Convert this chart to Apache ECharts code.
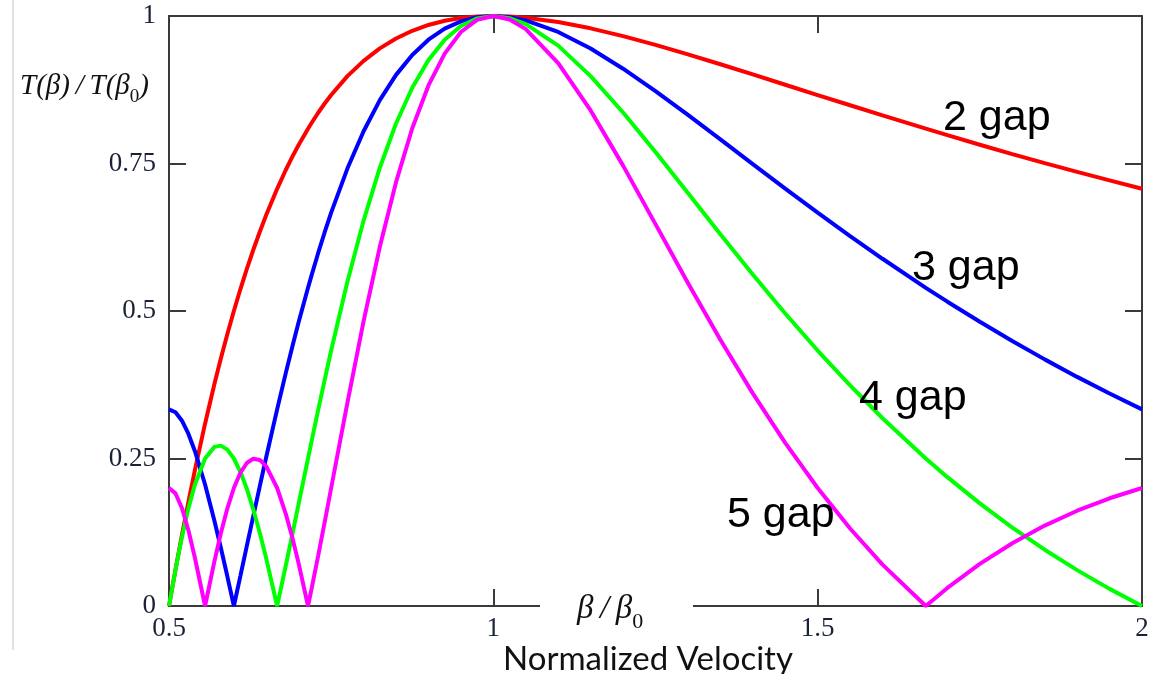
<!DOCTYPE html>
<html>
<head>
<meta charset="utf-8">
<script src="https://cdn.jsdelivr.net/npm/echarts@6/dist/echarts.min.js"></script>
<style>
html,body{margin:0;padding:0;background:#fff;}
#chart{width:1153px;height:674px;}
</style>
</head>
<body>
<div id="chart"></div>
<script>
// Normalized velocity samples (beta/beta0)
const beta = [0.5,0.51,0.52,0.53,0.54,0.5556,0.57,0.58,0.59,0.6,0.61,0.62,0.63,0.64,0.65,0.6667,0.68,0.69,0.7,0.7143,0.72,0.73,0.74,0.75,0.775,0.8,0.825,0.85,0.875,0.9,0.925,0.95,0.975,1.0,1.025,1.05,1.1,1.15,1.2,1.25,1.3,1.35,1.4,1.45,1.5,1.55,1.6,1.6667,1.7,1.75,1.8,1.85,1.9,1.95,2.0];

const gap2 = [0,0.0616,0.1205,0.1769,0.2306,0.3090,0.3764,0.4199,0.4611,0.5,0.5368,0.5713,0.6038,0.6344,0.6631,0.7071,0.7390,0.7612,0.7818,0.8090,0.8191,0.8360,0.8517,0.8660,0.8981,0.9239,0.9451,0.9618,0.9749,0.9848,0.9920,0.9966,0.9992,1,0.9993,0.9972,0.9898,0.9791,0.9659,0.9511,0.9350,0.9182,0.9010,0.8835,0.8660,0.8487,0.8315,0.8090,0.7980,0.7818,0.7660,0.7507,0.7357,0.7213,0.7071];

const gap3 = [0.3333,0.3283,0.3140,0.2916,0.2624,0.2060,0.1445,0.0983,0.0499,0,0.0507,0.1018,0.1528,0.2033,0.2530,0.3333,0.3947,0.4391,0.4817,0.5393,0.5613,0.5984,0.6335,0.6667,0.7414,0.8047,0.8574,0.9002,0.9340,0.9598,0.9786,0.9909,0.9979,1,0.9980,0.9926,0.9730,0.9448,0.9107,0.8727,0.8324,0.7908,0.7490,0.7075,0.6667,0.6270,0.5885,0.5393,0.5158,0.4817,0.4491,0.4180,0.3883,0.3602,0.3333];

const gap4 = [0,0.0611,0.1170,0.1658,0.2061,0.2500,0.2697,0.2718,0.2650,0.2500,0.2275,0.1985,0.1635,0.1238,0.0799,0,0.0682,0.1208,0.1740,0.2500,0.2802,0.3324,0.3833,0.4330,0.5496,0.6533,0.7429,0.8178,0.8784,0.9254,0.9599,0.9830,0.9960,1,0.9963,0.9861,0.9498,0.8981,0.8365,0.7694,0.6999,0.6301,0.5618,0.4958,0.4330,0.3739,0.3182,0.2500,0.2184,0.1740,0.1330,0.0954,0.0608,0.0290,0];

const gap5 = [0.2,0.1909,0.1658,0.1280,0.0814,0,0.0757,0.1237,0.1656,0.2,0.2258,0.2424,0.2497,0.2476,0.2366,0.2,0.1563,0.1164,0.0714,0,0.0304,0.0854,0.1422,0.2,0.3444,0.4828,0.6088,0.7184,0.8098,0.8823,0.9363,0.9729,0.9935,1,0.9941,0.9778,0.9203,0.8399,0.7464,0.6472,0.5476,0.4512,0.3604,0.2764,0.2,0.1313,0.0702,0,0.0306,0.0714,0.1064,0.1363,0.1615,0.1826,0.2];

const seriesNames = ['2 gap','3 gap','4 gap','5 gap'];
const seriesColors = ['#ff0000','#0000ff','#00ff00','#ff00ff'];
const seriesValues = [gap2, gap3, gap4, gap5];

const xTickLabels = ['0.5','1','1.5','2'];
const yTickLabels = ['0','0.25','0.5','0.75','1'];

const chart = echarts.init(document.getElementById('chart'), null, {renderer:'canvas'});

const axisColor = '#3a3a3a';
const labelColor = '#1a2238';
const serif = '"Liberation Serif","DejaVu Serif",serif';

function boxAxis(extra){
  return Object.assign({
    type:'value',
    axisLine:{show:true, onZero:false, lineStyle:{color:axisColor, width:2}},
    axisTick:{show:true, inside:true, length:17, lineStyle:{color:axisColor, width:2}},
    splitLine:{show:false}
  }, extra);
}

const option = {
  animation:false,
  backgroundColor:'#fff',
  grid:{left:169, right:11, top:16, bottom:68, containLabel:false},
  xAxis:[
    boxAxis({min:0.5, max:2, interval:0.5, position:'bottom',
      axisLabel:{show:true, margin:9, color:labelColor, fontFamily:serif, fontSize:27,
        formatter:function(v){ const i = Math.round((v-0.5)/0.5); return xTickLabels[i] || ''; }}}),
    boxAxis({min:0.5, max:2, interval:0.5, position:'top', axisLabel:{show:false}})
  ],
  yAxis:[
    boxAxis({min:0, max:1, interval:0.25, position:'left',
      axisLabel:{show:true, margin:13, color:labelColor, fontFamily:serif, fontSize:27,
        formatter:function(v){ const i = Math.round(v/0.25); return yTickLabels[i] || ''; }}}),
    boxAxis({min:0, max:1, interval:0.25, position:'right', axisLabel:{show:false}})
  ],
  series: seriesValues.map(function(vals, k){
    return {
      name:seriesNames[k], type:'line', xAxisIndex:0, yAxisIndex:0,
      showSymbol:false, symbol:'none', clip:false, smooth:false,
      lineStyle:{color:seriesColors[k], width:4},
      data: beta.map(function(b,i){ return [b, vals[i]]; })
    };
  }),
  graphic:[
    {type:'line', z:0, shape:{x1:13,y1:0,x2:13,y2:650}, style:{stroke:'#d9d9d9', lineWidth:1.5}},
    {type:'rect', z:100, shape:{x:540,y:598,width:153,height:14}, style:{fill:'#fff'}},
    {type:'text', z:101, left:577, top:593, style:{
      text:'{i|β\u2009/\u2009β}{s|0}', rich:{
        i:{font:'italic 33px "Liberation Serif", serif', fill:'#111', lineHeight:36, verticalAlign:'bottom'},
        s:{font:'22px "Liberation Serif", serif', fill:'#111', lineHeight:36, verticalAlign:'bottom', padding:[0,0,-7,0]}
      }}},
    {type:'text', z:101, left:20, top:72, style:{
      text:'{i|T(β)\u2009/\u2009T(β}{s|0}{i|)}', rich:{
        i:{font:'italic 29px "Liberation Serif", serif', fill:'#111', lineHeight:32, verticalAlign:'bottom'},
        s:{font:'19px "Liberation Serif", serif', fill:'#111', lineHeight:32, verticalAlign:'bottom', padding:[0,0,-6,0]}
      }}},
    {type:'text', z:101, left:503, top:643, style:{text:'Normalized Velocity', font:'33px Lato, "Open Sans", sans-serif', fill:'#111'}},
    {type:'text', z:101, left:943, top:97, style:{text:'2 gap', font:'43px "Liberation Sans", Arial, sans-serif', fill:'#000'}},
    {type:'text', z:101, left:912, top:247, style:{text:'3 gap', font:'43px "Liberation Sans", Arial, sans-serif', fill:'#000'}},
    {type:'text', z:101, left:859, top:377, style:{text:'4 gap', font:'43px "Liberation Sans", Arial, sans-serif', fill:'#000'}},
    {type:'text', z:101, left:727, top:494, style:{text:'5 gap', font:'43px "Liberation Sans", Arial, sans-serif', fill:'#000'}}
  ]
};
chart.setOption(option);
</script>
</body>
</html>
